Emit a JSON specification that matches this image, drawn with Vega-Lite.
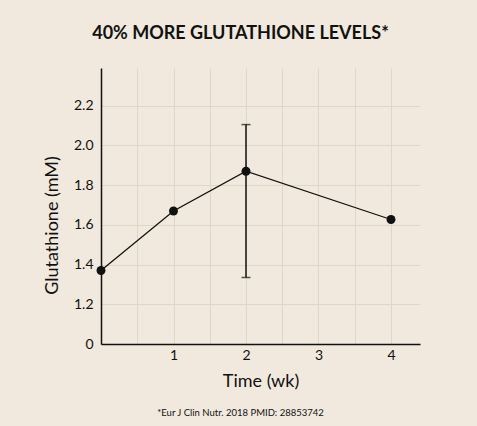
{
  "$schema": "https://vega.github.io/schema/vega-lite/v6.json",
  "autosize": "none",
  "width": 319,
  "height": 276,
  "padding": {"left": 101, "top": 68, "right": 57, "bottom": 82},
  "background": "#f1e9dd",
  "config": {
    "font": "Lato",
    "view": {"stroke": null},
    "axis": {
      "domainColor": "#111111",
      "domainWidth": 1.5,
      "gridColor": "#e0d6c6",
      "gridWidth": 1,
      "ticks": false,
      "labelColor": "#111111",
      "labelFontSize": 14,
      "titleColor": "#111111",
      "titleFontSize": 18,
      "titleFontWeight": "normal"
    }
  },
  "title": {
    "text": "40% MORE GLUTATHIONE LEVELS*",
    "fontSize": 18,
    "fontWeight": "bold",
    "color": "#111111",
    "anchor": "middle",
    "dx": -20,
    "offset": 25
  },
  "data": {
    "values": [
      {"week": 0, "gsh": 1.37},
      {"week": 1, "gsh": 1.67},
      {"week": 2, "gsh": 1.87, "lo": 1.335, "hi": 2.105},
      {"week": 4, "gsh": 1.627}
    ]
  },
  "resolve": {"axis": {"x": "independent"}},
  "layer": [
    {
      "mark": {"type": "line", "color": "#111111", "strokeWidth": 1.3},
      "encoding": {
        "x": {
          "field": "week",
          "type": "quantitative",
          "scale": {"domain": [0, 4.4], "nice": false, "zero": false},
          "axis": {
            "title": "Time (wk)",
            "values": [0.5, 1, 1.5, 2, 2.5, 3, 3.5, 4],
            "labelExpr": "datum.value % 1 == 0 ? format(datum.value, 'd') : ''",
            "labelPadding": 4,
            "titlePadding": 10
          }
        },
        "y": {
          "field": "gsh",
          "type": "quantitative",
          "scale": {"domain": [1, 2.39], "nice": false, "zero": false},
          "axis": {
            "title": "Glutathione (mM)",
            "values": [1, 1.2, 1.4, 1.6, 1.8, 2, 2.2],
            "labelExpr": "datum.value == 1 ? '0' : format(datum.value, '.1f')",
            "labelPadding": 8,
            "titlePadding": 12,
            "titleY": 157
          }
        }
      }
    },
    {
      "mark": {"type": "circle", "color": "#111111", "opacity": 1, "size": 80},
      "encoding": {
        "x": {"field": "week", "type": "quantitative", "axis": null},
        "y": {"field": "gsh", "type": "quantitative", "title": "Glutathione (mM)"}
      }
    },
    {
      "transform": [{"filter": "isValid(datum.lo)"}],
      "mark": {
        "type": "errorbar",
        "color": "#111111",
        "rule": {"strokeWidth": 1.5},
        "ticks": {"size": 9, "thickness": 1.5}
      },
      "encoding": {
        "x": {
          "field": "week",
          "type": "quantitative",
          "axis": {
            "orient": "bottom",
            "title": "*Eur J Clin Nutr. 2018 PMID: 28853742",
            "titleFontSize": 9.5,
            "titleX": 139,
            "titleY": 68,
            "titleBaseline": "middle",
            "domain": false,
            "labels": false,
            "grid": false
          }
        },
        "y": {"field": "lo", "type": "quantitative", "title": "Glutathione (mM)"},
        "y2": {"field": "hi"}
      }
    }
  ]
}
